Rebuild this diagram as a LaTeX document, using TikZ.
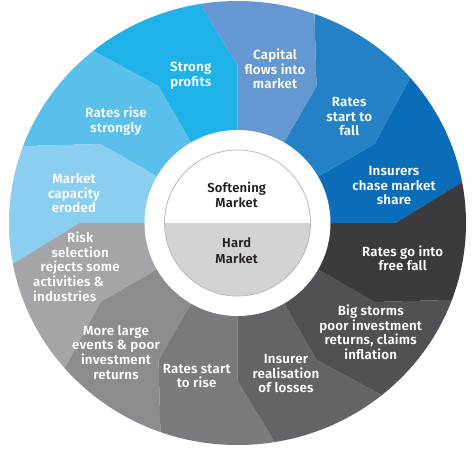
\documentclass[tikz,border=0pt]{standalone}
\usepackage{fontspec}
\usepackage{tikz}
\usetikzlibrary{calc}
\newfontfamily\wheelfont{Fira Sans SemiBold}[LetterSpace=1.5]
\definecolor{insurers}{HTML}{0B6DB8}
\definecolor{startfall}{HTML}{2581C5}
\definecolor{capital}{HTML}{6598D0}
\definecolor{profits}{HTML}{1FB2E9}
\definecolor{risestrong}{HTML}{5BBFEC}
\definecolor{capacity}{HTML}{8BCEF0}
\definecolor{risk}{HTML}{A4A5A9}
\definecolor{events}{HTML}{8B8C90}
\definecolor{startrise}{HTML}{797A7E}
\definecolor{realise}{HTML}{636468}
\definecolor{storms}{HTML}{505155}
\definecolor{freefall}{HTML}{3B3B3D}
\definecolor{hardgray}{HTML}{D1D3D4}
\definecolor{rimgray}{HTML}{B9BABC}
\definecolor{inktext}{HTML}{231F20}
\begin{document}
\begin{tikzpicture}[x=1pt, y=1pt,
  lbl/.style = {text=white, align=center, inner sep=0pt, font=\wheelfont\fontsize{13.3}{14.7}\selectfont},
  core/.style = {text=inktext, align=center, inner sep=0pt, font=\wheelfont\fontsize{13}{15.2}\selectfont}]
\useasboundingbox (-237.5,-238) rectangle (236.5,223);
\begin{scope}
\clip (0,0) ellipse [x radius=228.5pt, y radius=222pt];
\foreach \a/\c in {0/insurers, 30/startfall, 60/capital, 90/profits, 120/risestrong, 150/capacity,
  180/risk, 210/events, 240/startrise, 270/realise, 300/storms, 330/freefall}
  \fill[\c] (0,0) -- (\a:158) -- ($(\a:158)!2.5!(\a+10:225)$) -- (\a+25:420)
    -- ($(\a+30:158)!2.5!(\a+40:225)$) -- (\a+30:158) -- cycle;
\end{scope}
\fill[white] (0,0) circle [radius=93pt];
\fill[white] (0:73) arc [start angle=0, end angle=180, radius=73pt] -- cycle;
\fill[hardgray] (180:73) arc [start angle=180, end angle=360, radius=73pt] -- cycle;
\draw[rimgray, line width=0.8pt] (0,0) circle [radius=73pt];

\node[core] (soft) at (-0.8,28) {Softening\\Market};
\node[core] (hard) at (-0.8,-27.7) {Hard\\Market};

\node[lbl] (strong) at (-46.8,147) {Strong\\profits};
\node[lbl] (capital) at (37.5,154) {Capital\\flows into\\market};
\node[lbl] (fall) at (111.8,106.3) {Rates\\start to\\fall};
\node[lbl] (chase) at (156.5,37.3) {Insurers\\chase market\\share};
\node[lbl] (freefall) at (165.2,-35.3) {Rates go into\\free fall};
\node[lbl] (storms) at (133.2,-109.3) {Big storms\\poor investment\\returns, claims\\inflation};
\node[lbl] (losses) at (48.5,-150.7) {Insurer\\realisation\\of losses};
\node[lbl] (rise) at (-40.8,-153) {Rates start\\to rise};
\node[lbl] (events) at (-121.5,-129.3) {More large\\events \& poor\\investment\\returns};
\node[lbl, anchor=west] (risk) at (-204.5,-43.5)
  {\makebox[94pt][c]{Risk}\\\makebox[94pt][c]{selection}\\\makebox[94pt][c]{rejects some}\\
   \makebox[94pt][l]{activities \&}\\\makebox[94pt][l]{industries}};
\node[lbl] (capacity) at (-163.5,29.7) {Market\\capacity\\eroded};
\node[lbl] (strongly) at (-121.5,102) {Rates rise\\strongly};
\end{tikzpicture}
\end{document}
